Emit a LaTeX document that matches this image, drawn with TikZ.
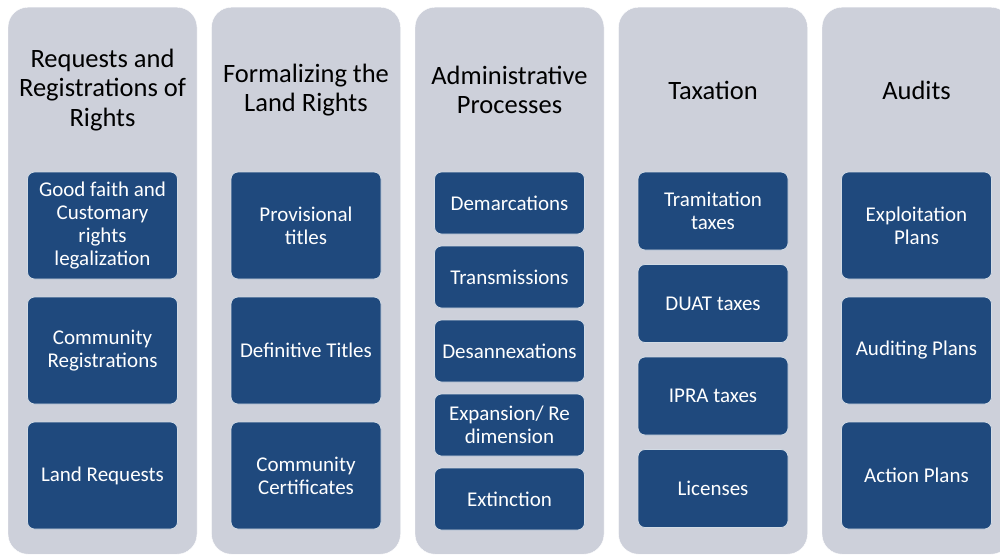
\documentclass[tikz,border=0pt]{standalone}
\usepackage{fontspec}
\setmainfont{Carlito}
\usetikzlibrary{positioning}
\definecolor{panelgrey}{RGB}{205,208,218}
\definecolor{itemblue}{RGB}{31,73,125}

\begin{document}
\begin{tikzpicture} [x=1pt,y=-1pt,node distance=18pt,
  column/.style={fill=panelgrey,draw=white,rounded corners=20pt,minimum width=189pt,
    minimum height=547pt,inner sep=0pt,anchor=north},
  head/.style={font=\fontsize{26.5}{29.5}\selectfont,align=center,text=black},
  item/.style={fill=itemblue,draw=white!80!itemblue,line width=0.8pt,rounded corners=7pt,
    text=white,align=center,font=\fontsize{21}{23.3}\selectfont,
    minimum width=150pt,inner sep=0pt,outer sep=0pt},
  tall/.style={item,minimum height=107pt},
  short/.style={item,minimum height=62pt},
  mid/.style={item,minimum height=78pt}]

  \useasboundingbox (0,0) rectangle (1000,555);
  \clip (0,0) rectangle (1000,555);

  % panels
  \node[column] (c1) at (102.5,7) {};
  \node[column] (c2) at (306,7) {};
  \node[column] (c3) at (509.5,7) {};
  \node[column] (c4) at (713,7) {};
  \node[column] (c5) at (916.5,7) {};

  % headings
  \node[head] (h1) at (102.5,90) {Requests and\\Registrations of\\Rights};
  \node[head] (h2) at (306,90) {Formalizing the\\Land Rights};
  \node[head] (h3) at (509.5,90) {Administrative\\Processes};
  \node[head] (h4) at (713,90) {Taxation};
  \node[head] (h5) at (916.5,90) {Audits};

  % requests and registrations
  \node[tall,anchor=north] (r1) at (102.5,172) {Good faith and\\Customary\\rights\\legalization};
  \node[tall] (r2) [below=of r1] {Community\\Registrations};
  \node[tall] (r3) [below=of r2] {Land Requests};

  % formalizing
  \node[tall,anchor=north] (f1) at (306,172) {Provisional\\titles};
  \node[tall] (f2) [below=of f1] {Definitive Titles};
  \node[tall] (f3) [below=of f2] {Community\\Certificates};

  % administrative
  \node[short,anchor=north] (a1) at (509.5,172) {Demarcations};
  \node[short] (a2) [below=12pt of a1] {Transmissions};
  \node[short] (a3) [below=12pt of a2] {Desannexations};
  \node[short] (a4) [below=12pt of a3] {Expansion/ Re\\dimension};
  \node[short] (a5) [below=12pt of a4] {Extinction};

  % taxation
  \node[mid,anchor=north] (t1) at (713,172) {Tramitation\\taxes};
  \node[mid] (t2) [below=14.5pt of t1] {DUAT taxes};
  \node[mid] (t3) [below=14.5pt of t2] {IPRA taxes};
  \node[mid] (t4) [below=14.5pt of t3] {Licenses};

  % audits
  \node[tall,anchor=north] (u1) at (916.5,172) {Exploitation\\Plans};
  \node[tall] (u2) [below=of u1] {Auditing Plans};
  \node[tall] (u3) [below=of u2] {Action Plans};

\end{tikzpicture}
\end{document}
